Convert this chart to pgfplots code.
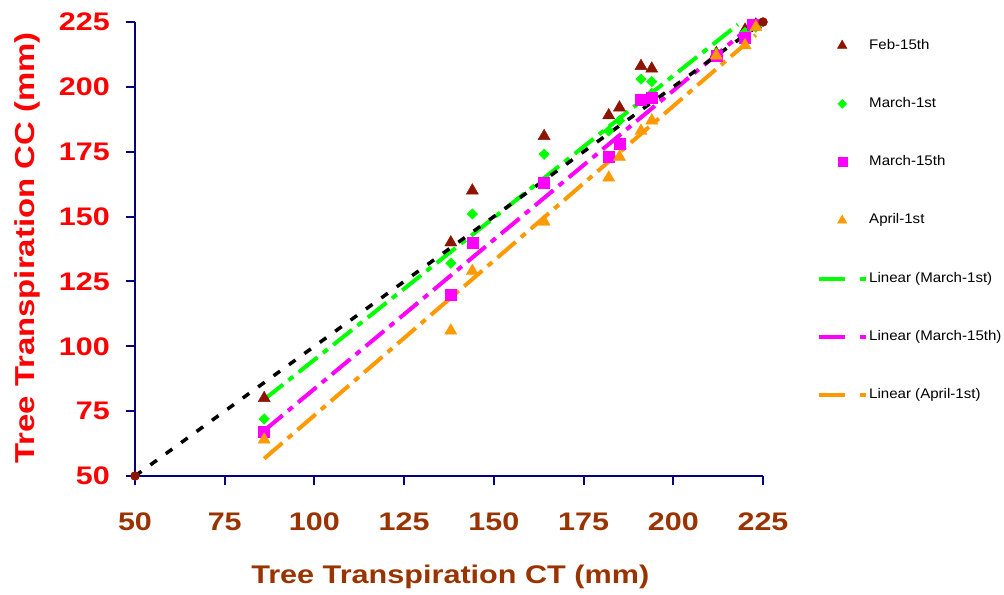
\documentclass[border=0pt]{standalone}
\usepackage{fontspec}
\setmainfont{Liberation Sans}
\newfontfamily\tickfont{Liberation Sans Bold}[FakeStretch=1.2]
\newfontfamily\labfont{Liberation Sans Bold}[FakeStretch=1.2]
\newfontfamily\legfont{Liberation Sans}[FakeStretch=1.08]
\usepackage{pgfplots}
\pgfplotsset{compat=1.18}
\definecolor{febred}{RGB}{140,20,0}
\definecolor{mgreen}{RGB}{0,255,0}
\definecolor{mmag}{RGB}{255,0,255}
\definecolor{aorange}{RGB}{255,153,0}
\definecolor{navyax}{RGB}{0,0,128}
\definecolor{xbrown}{RGB}{153,51,0}
\pgfplotsset{
  markleg/.style={legend image code/.code={\path (0,0) (47bp,0); \draw[##1, mark size=#1] plot coordinates {(23bp,0)};}},
  lineleg/.style={legend image code/.code={\draw[##1, solid] (0bp,0) -- (26bp,0); \draw[##1, solid] (41bp,0) -- (47bp,0);}},
}
\begin{document}
\begin{tikzpicture}
\begin{axis}[
  at={(0,0)}, anchor=south west,
  scale only axis, width=628bp, height=454bp,
  xmin=50, xmax=225, ymin=50, ymax=225,
  xtick={50,75,...,225}, ytick={50,75,...,225},
  axis x line*=bottom, axis y line*=left,
  axis line style={navyax, line width=2bp},
  tick style={navyax, line width=2bp},
  tick align=outside, major tick length=9bp,
  /pgf/number format/assume math mode=true,
  xticklabel style={font=\fontsize{25.5}{30}\tickfont, text=xbrown, inner sep=0pt, anchor=north, yshift=-28bp},
  yticklabel style={font=\fontsize{25.5}{30}\tickfont, text=red, inner sep=0pt, anchor=east, xshift=-16bp},
  xlabel={Tree Transpiration CT (mm)},
  ylabel={Tree Transpiration CC (mm)},
  xlabel style={font=\fontsize{25.6}{31}\labfont, text=xbrown, at={(axis description cs:0.502,-0.222)}, anchor=center},
  ylabel style={font=\fontsize{27.5}{33}\labfont, text=red, at={(axis description cs:-0.172,0.502)}, anchor=center},
  clip=false,
  legend cell align=left,
  legend style={draw=none, fill=none, at={(axis description cs:1.086,0.965)}, anchor=north west,
    font=\fontsize{14}{16}\legfont, text=black,
    row sep=43.3bp, inner sep=0pt,
    nodes={inner sep=1bp, text height=10bp, text depth=3bp}},
]
% scatter series
\addplot[only marks, mark=triangle*, mark size=7bp, color=febred, markleg=5.5bp]
  coordinates {(86,80)(138,140)(144,160)(164,181)(182,189)(185,192)(191,208)(194,207)(212,213)(220,222)(223,224)};
\addlegendentry{Feb-15th}
\addplot[only marks, mark=square*, mark size=3.7bp, mark options={rotate=45}, color=mgreen, markleg=3.2bp]
  coordinates {(86,72)(138,132)(144,151)(164,174)(182,183)(185,187)(191,203)(194,202)(194,197.5)(212,213)(220,221)(223,223)};
\addlegendentry{March-1st}
\addplot[only marks, mark=square*, mark size=5.5bp, color=mmag, markleg=4.5bp]
  coordinates {(86,67)(138,120)(144,140)(164,163)(182,173)(185,178)(191,195)(194,196)(212,212)(220,219)(222,224)};
\addlegendentry{March-15th}
\addplot[only marks, mark=triangle*, mark size=7bp, color=aorange, markleg=5.5bp]
  coordinates {(86,64)(138,106)(144,129)(164,148)(182,165)(185,173)(191,183)(194,187)(212,212)(220,216)(223,223)};
\addlegendentry{April-1st}
% trend lines
\addplot[mgreen, line width=4bp, dash pattern=on 24bp off 7bp on 6bp off 7bp, lineleg]
  coordinates {(86,79.5)(218,224)};
\addlegendentry{Linear (March-1st)}
\addplot[mmag, line width=4bp, dash pattern=on 24bp off 7bp on 6bp off 7bp, lineleg]
  coordinates {(86,67.5)(223,225)};
\addlegendentry{Linear (March-15th)}
\addplot[aorange, line width=4bp, dash pattern=on 24bp off 7bp on 6bp off 7bp, lineleg]
  coordinates {(86,56.7)(223,220)};
\addlegendentry{Linear (April-1st)}
% 1:1 line
\addplot[black, line width=3.5bp, dash pattern=on 8bp off 11bp, forget plot]
  coordinates {(50,50)(225,225)};
\addplot[only marks, mark=*, mark size=4.5bp, color=febred, forget plot]
  coordinates {(50,50)(225,225)};
\end{axis}
\pgfresetboundingbox
\path[use as bounding box] (-135bp,-119bp) rectangle (869bp,476bp);
\end{tikzpicture}
\end{document}
